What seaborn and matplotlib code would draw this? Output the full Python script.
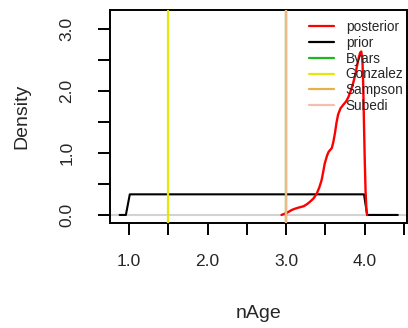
import numpy as np
import pandas as pd
import matplotlib
matplotlib.use("Agg")
import matplotlib.pyplot as plt
from matplotlib.lines import Line2D
import seaborn as sns

# ---- data ----
post_x = [2.94, 2.96, 3.00, 3.03, 3.07, 3.11, 3.16, 3.22, 3.26, 3.30, 3.35,
          3.39, 3.42, 3.45, 3.47, 3.49, 3.52, 3.54, 3.56, 3.58, 3.60, 3.62,
          3.64, 3.66, 3.69, 3.72, 3.76, 3.79, 3.82, 3.85, 3.88, 3.90, 3.92,
          3.94, 3.955, 3.97, 3.98, 3.99, 4.00, 4.01, 4.02, 4.03]
post_y = [0.00, 0.01, 0.03, 0.05, 0.08, 0.10, 0.12, 0.14, 0.17, 0.21, 0.27,
          0.35, 0.44, 0.56, 0.69, 0.83, 0.96, 1.02, 1.05, 1.08, 1.18, 1.32,
          1.49, 1.62, 1.72, 1.77, 1.83, 1.90, 2.00, 2.12, 2.27, 2.40, 2.52,
          2.62, 2.64, 2.50, 2.10, 1.45, 0.85, 0.38, 0.10, 0.00]
prior_x = [0.88, 0.96, 1.01, 3.99, 4.03, 4.42]
prior_y = [0.00, 0.00, 0.333, 0.333, 0.00, 0.00]
ref_names = ["Byars", "Gonzalez", "Sampson", "Subedi"]
ref_values = [3.0, 1.5, 3.0, 3.0]
ref_colors = ["#1cb81c", "#e6e60a", "#e8b04c", "#f5bfae"]
ref_alpha = [1.0, 1.0, 1.0, 0.6]
xticks = [1.0, 1.5, 2.0, 2.5, 3.0, 3.5, 4.0, 4.5]
xticklabels = ["1.0", "", "2.0", "", "3.0", "", "4.0", ""]
yticks = [0.0, 0.5, 1.0, 1.5, 2.0, 2.5, 3.0]
yticklabels = ["0.0", "", "1.0", "", "2.0", "", "3.0"]

sns.set_style("white")
plt.rcParams["font.family"] = ["Liberation Sans", "DejaVu Sans"]

fig = plt.figure(figsize=(4.08, 3.28), dpi=100)
ax = fig.add_axes([110 / 408, 105 / 328, 297 / 408, 213 / 328])

ax.axhline(0, color="#d3d3d3", lw=1.5, zorder=1)

prior_df = pd.DataFrame({"x": prior_x, "y": prior_y})
post_df = pd.DataFrame({"x": post_x, "y": post_y})
sns.lineplot(data=prior_df, x="x", y="y", color="black", lw=1.5, ax=ax,
             sort=False, estimator=None, zorder=2)
sns.lineplot(data=post_df, x="x", y="y", color="#ff0000", lw=1.7, ax=ax,
             sort=False, estimator=None, zorder=3)
for v, c, a in zip(ref_values, ref_colors, ref_alpha):
    ax.axvline(v, color=c, lw=1.6, alpha=a, zorder=4)

ax.set_xlim(0.758, 4.537)
ax.set_ylim(-0.13, 3.31)
ax.set_xticks(xticks)
ax.set_xticklabels(xticklabels, fontsize=12.5)
ax.set_yticks(yticks)
ax.set_yticklabels(yticklabels, fontsize=12.5, rotation=90, va="center")
ax.tick_params(axis="both", direction="out", length=8.6, width=1.4,
               color="black", bottom=True, left=True)
ax.tick_params(axis="x", pad=14)
ax.tick_params(axis="y", pad=17)
for s in ax.spines.values():
    s.set_color("black")
    s.set_linewidth(1.4)

ax.set_xlabel("nAge", fontsize=14)
ax.set_ylabel("Density", fontsize=14)
ax.xaxis.set_label_coords(0.5, (223 - 313) / 213)
ax.xaxis.label.set_va("center")
ax.yaxis.set_label_coords((22 - 110) / 297, 0.5)
ax.yaxis.label.set_va("center")

handles = [Line2D([], [], color="#ff0000", lw=1.6),
           Line2D([], [], color="black", lw=1.6)]
handles += [Line2D([], [], color=c, lw=1.6) for c in ref_colors]
labels = ["posterior", "prior"] + ref_names
fig.legend(handles, labels, loc="upper left",
           bbox_to_anchor=(309 / 408, 1 - 20 / 328),
           frameon=False, fontsize=9.8, borderpad=0, borderaxespad=0,
           handlelength=1.8, handletextpad=0.9, labelspacing=0.13)

fig.savefig("out.png", dpi=100)
